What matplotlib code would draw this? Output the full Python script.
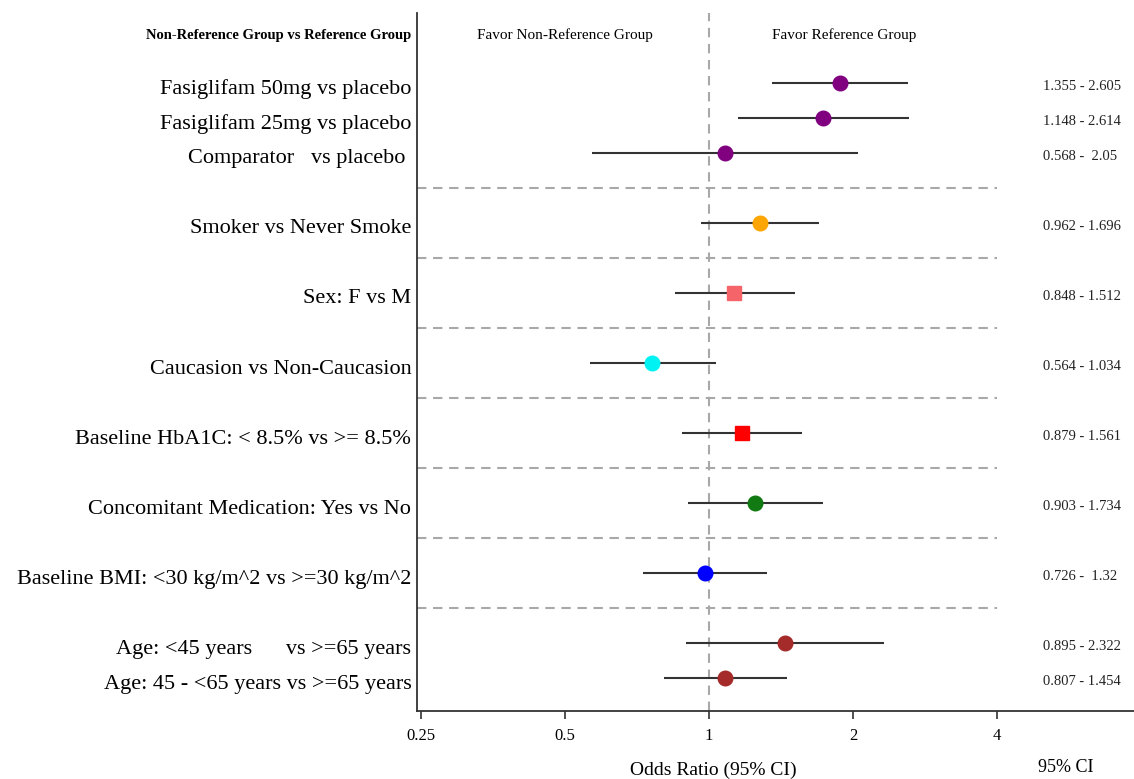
import numpy as np
import matplotlib
matplotlib.use("Agg")
import matplotlib.pyplot as plt
import matplotlib.transforms as mtransforms

plt.rcParams['font.family'] = ['Liberation Serif', 'DejaVu Serif']

# rows of the forest plot, top to bottom
labels = [
    "Fasiglifam 50mg vs placebo",
    "Fasiglifam 25mg vs placebo",
    "Comparator   vs placebo ",
    "Smoker vs Never Smoke",
    "Sex: F vs M",
    "Caucasion vs Non-Caucasion",
    "Baseline HbA1C: < 8.5% vs >= 8.5%",
    "Concomitant Medication: Yes vs No",
    "Baseline BMI: <30 kg/m^2 vs >=30 kg/m^2",
    "Age: <45 years      vs >=65 years",
    "Age: 45 - <65 years vs >=65 years",
]
groups = [0, 0, 0, 1, 2, 3, 4, 5, 6, 7, 7]
odds = [1.88, 1.73, 1.08, 1.28, 1.13, 0.76, 1.17, 1.25, 0.98, 1.44, 1.08]
lower = [1.355, 1.148, 0.568, 0.962, 0.848, 0.564, 0.879, 0.903, 0.726, 0.895, 0.807]
upper = [2.605, 2.614, 2.05, 1.696, 1.512, 1.034, 1.561, 1.734, 1.32, 2.322, 1.454]
ci_text = ["1.355 - 2.605", "1.148 - 2.614", "0.568 -  2.05", "0.962 - 1.696",
           "0.848 - 1.512", "0.564 - 1.034", "0.879 - 1.561", "0.903 - 1.734",
           "0.726 -  1.32", "0.895 - 2.322", "0.807 - 1.454"]
colors = ["#800080", "#800080", "#800080", "#ffa500", "#f46468", "#00f2f2",
          "#ff0000", "#127a12", "#0000ff", "#a52a2a", "#a52a2a"]
markers = ["o", "o", "o", "o", "s", "o", "s", "o", "o", "o", "o"]
xticks = [0.25, 0.5, 1, 2, 4]

fig = plt.figure(figsize=(11.34, 7.79), dpi=100)
ax = fig.add_axes([417 / 1134, 1 - 711 / 779, 1 - 417 / 1134, (711 - 13) / 779])

ypos = np.arange(len(labels)) + np.array(groups)
dash = dict(color="#a8a8a8", lw=1.5, linestyle=(0, (4.5, 3.2)))

ax.set_xscale("log", base=2)
ax.set_xlim(2 ** -2.028, 2 ** 2.951)
ax.set_ylim(17.94, -2.0)

ax.axvline(1, zorder=1, **dash)
first = [i for i in range(1, len(groups)) if groups[i] != groups[i - 1]]
ax.hlines(ypos[first] - 1, ax.get_xlim()[0], 4, zorder=1, **dash)

ax.hlines(ypos, lower, upper, color="#333333", lw=1.5, zorder=2)
for y, o, c, m in zip(ypos, odds, colors, markers):
    ax.plot(o, y, marker=m, color=c, ms=10.5 if m == "o" else 9.5, zorder=3,
            linestyle="none")

trans = mtransforms.blended_transform_factory(ax.transAxes, ax.transData)
for y, lab, ci in zip(ypos, labels, ci_text):
    ax.text(-0.008, y + 0.17, lab, transform=trans, ha="right", va="center",
            fontsize=16, clip_on=False)
    ax.text(0.873, y + 0.1, ci, transform=trans, ha="left", va="center",
            fontsize=10.5, color="#222222")

ax.text(-0.008, -1.37, "Non-Reference Group vs Reference Group", transform=trans,
        ha="right", va="center", fontsize=10.5, fontweight="bold")
ax.text(0.5, -1.37, "Favor Non-Reference Group", ha="center", va="center", fontsize=11)
ax.text(1.92, -1.37, "Favor Reference Group", ha="center", va="center", fontsize=11)

ax.set_xticks(xticks)
ax.set_xticklabels([f"{t:g}" for t in xticks])
ax.minorticks_off()
ax.set_yticks([])
ax.tick_params(axis="x", length=6, width=1.2, pad=6, labelsize=12, color="#333333")
for s in ["top", "right"]:
    ax.spines[s].set_visible(False)
for s in ["left", "bottom"]:
    ax.spines[s].set_linewidth(1.3)
    ax.spines[s].set_color("#333333")

fig.text(713 / 1134, 1 - 770 / 779, "Odds Ratio (95% CI)", ha="center", va="center",
         fontsize=14)
fig.text(1066 / 1134, 1 - 768 / 779, "95% CI", ha="center", va="center", fontsize=13)

fig.savefig("out.png", dpi=100)
